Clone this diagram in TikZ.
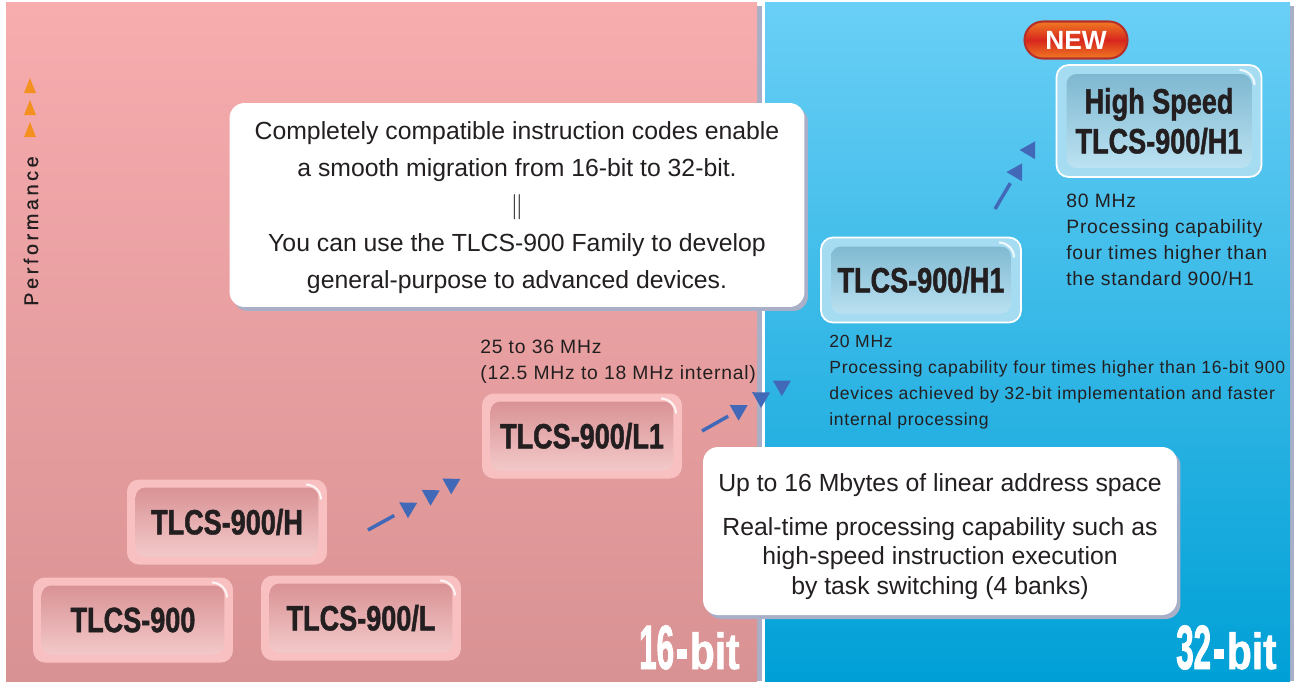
\documentclass[tikz,border=0pt]{standalone}
\usepackage{fontspec}
\setmainfont{Liberation Sans}
\newfontfamily\keyfont[FakeStretch=0.77, FakeBold=1.3]{Liberation Sans Bold}
\newfontfamily\numfont[FakeStretch=0.5, FakeBold=1.2]{Liberation Sans Bold}
\newfontfamily\bitfont[FakeStretch=0.8, FakeBold=1.2]{Liberation Sans Bold}
\newfontfamily\specfont[LetterSpace=4]{Liberation Sans}
\newfontfamily\perffont[LetterSpace=18, FakeBold=0.6]{Liberation Sans}
\usetikzlibrary{decorations.markings,shadows}
\definecolor{tlcsInk}{HTML}{231F20}
\definecolor{tlcsPinkTop}{HTML}{F7ACAE}
\definecolor{tlcsPinkBot}{HTML}{D99293}
\definecolor{tlcsBlueTop}{HTML}{6ACFF6}
\definecolor{tlcsBlueBot}{HTML}{00A0D6}
\definecolor{tlcsEdge}{HTML}{A9AFC6}
\definecolor{tlcsArrow}{HTML}{4169B8}
\definecolor{tlcsOrange}{HTML}{F39020}
\definecolor{keyRimPink}{HTML}{F8C0C1}
\definecolor{keyFacePinkTop}{HTML}{D68C8F}
\definecolor{keyFacePinkBot}{HTML}{F6CFCF}
\definecolor{keyRimBlue}{HTML}{A6DCF1}
\definecolor{keyFaceBlueTop}{HTML}{78B4CD}
\definecolor{keyFaceBlueBot}{HTML}{C2E6F5}
\definecolor{newRed}{HTML}{D7261E}
\definecolor{newOrange}{HTML}{F07A22}
\definecolor{newBorder}{HTML}{B5302A}
\newcommand{\bitmark}[1]{{\numfont\fontsize{35.7}{36}\selectfont #1}\kern1.5pt\rule[0.2cm]{0.21cm}{0.21cm}\kern1.5pt{\bitfont\fontsize{29}{30}\selectfont bit}}
\tikzset{
  key base/.style={rounded corners=0.24cm, minimum width=4cm, minimum height=1.7cm, inner sep=0pt, align=center, text=tlcsInk, font=\keyfont\fontsize{20}{22.7}\selectfont},
  pink key/.style={key base, fill=keyRimPink, path picture={
      \shade[top color=keyFacePinkTop, bottom color=keyFacePinkBot, rounded corners=0.2cm]
        ([shift={(0.17cm,-0.16cm)}]path picture bounding box.north west) rectangle
        ([shift={(-0.17cm,0.16cm)}]path picture bounding box.south east);
      \draw[white, opacity=0.8, line width=1.2pt]
        ([shift={(-0.42cm,-0.1cm)}]path picture bounding box.north east) arc[start angle=90, end angle=0, radius=0.3cm];}},
  blue key/.style={key base, fill=keyRimBlue, draw=white, line width=1pt, path picture={
      \shade[top color=keyFaceBlueTop, bottom color=keyFaceBlueBot, rounded corners=0.2cm]
        ([shift={(0.2cm,-0.18cm)}]path picture bounding box.north west) rectangle
        ([shift={(-0.2cm,0.18cm)}]path picture bounding box.south east);
      \draw[white, opacity=0.8, line width=1.2pt]
        ([shift={(-0.44cm,-0.1cm)}]path picture bounding box.north east) arc[start angle=90, end angle=0, radius=0.3cm];}},
  callout/.style={fill=white, rounded corners=0.3cm, inner sep=0pt, general shadow={fill=tlcsEdge, shadow xshift=0.07cm, shadow yshift=-0.08cm}},
  callout text/.style={align=center, inner sep=0pt, text=tlcsInk, font=\fontsize{14.1}{21.3}\selectfont},
  spec text/.style={anchor=north west, align=left, inner sep=0pt, text=tlcsInk, font=\specfont\fontsize{11}{14.7}\selectfont},
  new tag/.style={rounded corners=0.37cm, minimum width=2.06cm, minimum height=0.74cm, inner sep=0pt, top color=newOrange, bottom color=newOrange, middle color=newRed, draw=newBorder, line width=1.2pt, text=white, font=\bfseries\fontsize{15}{16}\selectfont},
  hop line/.style={draw=tlcsArrow, line width=0.07cm, dash pattern=on 0.6cm off 6cm},
  hop tip/.style={postaction={decorate, decoration={markings, mark=at position #1 with {\fill[tlcsArrow] (0.18cm,0cm) -- (-0.13cm,0.18cm) -- (-0.13cm,-0.18cm) -- cycle;}}}},
  bit label/.style={anchor=base east, inner sep=0pt, text=white},
}
\begin{document}
\begin{tikzpicture}[x=0.02cm, y=-0.02cm]
  \useasboundingbox (0,0) rectangle (1294,681);
  \fill[white] (0,0) rectangle (1294,681);
  % panel edges and panels
  \fill[tlcsEdge] (757,6) rectangle (762,681);
  \fill[tlcsEdge] (1290,6) rectangle (1294,681);
  \shade[top color=tlcsPinkTop, bottom color=tlcsPinkBot] (6,2) rectangle (757,681);
  \shade[top color=tlcsBlueTop, bottom color=tlcsBlueBot] (765,2) rectangle (1290,681);
  % performance axis
  \foreach \y in {86,108,130} \fill[tlcsOrange] (24,\y+7) -- (36,\y+7) -- (30,\y-8) -- cycle;
  \node[rotate=90, font=\perffont\fontsize{11.3}{13}\selectfont, text=tlcsInk] (perf) at (31,231) {Performance};
  % callouts
  \node[callout, minimum width=11.5cm, minimum height=4.08cm] (compat) at (517,205) {};
  \node[callout text] (compatText) at (517,207.5)
    {Completely compatible instruction codes enable\\ a smooth migration from 16-bit to 32-bit.\\ $\Vert$\\ You can use the TLCS-900 Family to develop\\ general-purpose to advanced devices.};
  \node[callout, minimum width=9.48cm, minimum height=3.36cm] (feat) at (940,531) {};
  \node[callout text, font=\fontsize{14.1}{17}\selectfont] (featText) at (940,536.5)
    {Up to 16 Mbytes of linear address space\\[8pt] Real-time processing capability such as\\ high-speed instruction execution\\ by task switching (4 banks)};
  % family keys
  \node[pink key] (k900) at (133,620) {TLCS-900};
  \node[pink key] (k900h) at (227,522) {TLCS-900/H};
  \node[pink key] (k900l) at (361,618) {TLCS-900/L};
  \node[pink key] (k900l1) at (582,436) {TLCS-900/L1};
  \node[blue key] (k900h1) at (921,280) {TLCS-900/H1};
  \node[blue key, minimum width=4.1cm, minimum height=2.24cm] (khs) at (1159,121) {High Speed\\TLCS-900/H1};
  \node[new tag] (newtag) at (1076,40) {NEW};
  % clock notes
  \node[spec text] (specl1) at (480,340) {25 to 36 MHz\\(12.5 MHz to 18 MHz internal)};
  \node[spec text, font=\specfont\fontsize{10}{14.7}\selectfont] (spech1) at (829,335) {20 MHz\\Processing capability four times higher than 16-bit 900\\devices achieved by 32-bit implementation and faster\\internal processing};
  \node[spec text] (spechs) at (1066,194) {80 MHz\\Processing capability\\four times higher than\\the standard 900/H1};
  % migration hops
  \coordinate (hopA1) at (368,530); \coordinate (hopA2) at (462,478);
  \coordinate (hopB1) at (702,431); \coordinate (hopB2) at (792,380);
  \coordinate (hopC1) at (995,209); \coordinate (hopC2) at (1036,140);
  \draw[hop line, hop tip=0.44, hop tip=0.68, hop tip=0.90] (hopA1) -- (hopA2);
  \draw[hop line, hop tip=0.42, hop tip=0.67, hop tip=0.90] (hopB1) -- (hopB2);
  \draw[hop line, hop tip=0.55, hop tip=0.87] (hopC1) -- (hopC2);
  % bit width marks
  \node[bit label] (bit16) at (740,669) {\bitmark{16}};
  \node[bit label] (bit32) at (1277,669) {\bitmark{32}};
\end{tikzpicture}
\end{document}
